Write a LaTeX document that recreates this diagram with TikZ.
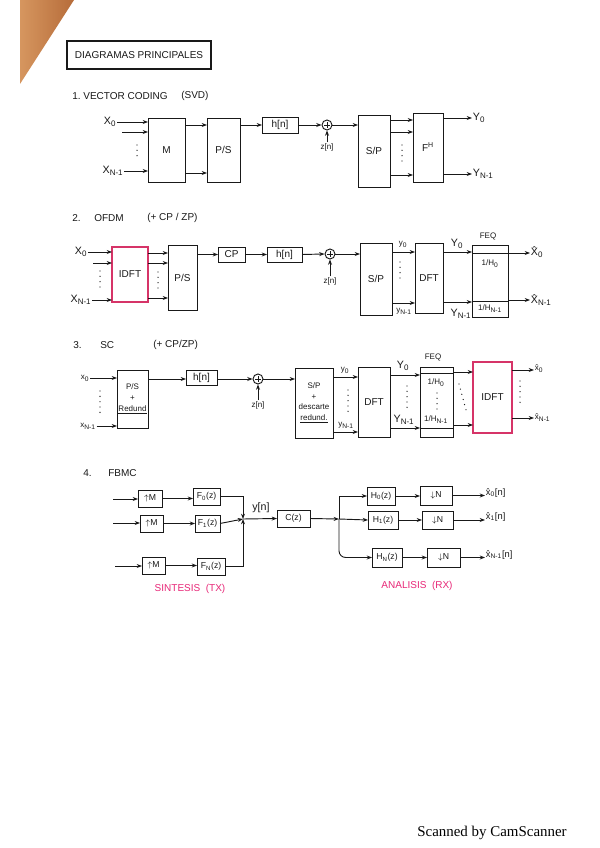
\documentclass[tikz,border=0pt]{standalone}
\usepackage{fontspec}
\setmainfont{Liberation Sans}
\newfontfamily\scanfont{Liberation Serif}
\usetikzlibrary{arrows.meta,calc}

\definecolor{ink}{RGB}{25,25,25}
\definecolor{pinkred}{RGB}{214,52,104}
\definecolor{magent}{RGB}{232,40,120}
\definecolor{woodA}{RGB}{214,150,95}
\definecolor{woodB}{RGB}{182,108,58}

\tikzset{
  blk/.style={draw=ink,line width=0.7pt,inner sep=0pt,outer sep=0pt,align=center,text=ink,font=\fontsize{7.5}{8.5}\selectfont},
  pblk/.style={draw=pinkred,line width=1.5pt},
  arr/.style={draw=ink,line width=0.7pt,-{Stealth[length=4pt,width=3pt]}},
  lbl/.style={inner sep=0.5pt,text=ink,font=\fontsize{8}{9}\selectfont},
  sml/.style={inner sep=0.5pt,text=ink,font=\fontsize{6}{7}\selectfont},
  ttl/.style={inner sep=0pt,anchor=west,text=ink,font=\fontsize{7.5}{8}\selectfont},
  pinklbl/.style={inner sep=0pt,text=magent,font=\fontsize{7.5}{8}\selectfont},
  sumnode/.style={draw=ink,circle,line width=0.7pt,minimum size=7.5pt,inner sep=0pt,
    path picture={\draw[line width=0.6pt] ([xshift=-2pt]path picture bounding box.center) -- ([xshift=2pt]path picture bounding box.center);
                  \draw[line width=0.6pt] ([yshift=-2pt]path picture bounding box.center) -- ([yshift=2pt]path picture bounding box.center);}},
}
\newcommand\blk[7][]{\pgfmathsetmacro\bkw{(#5-#3)*0.75}\pgfmathsetmacro\bkh{(#6-#4)*0.75}%
  \node[blk,minimum width=\bkw pt,minimum height=\bkh pt,#1] (#2) at ({(#3+#5)/2},{(#4+#6)/2}) {#7};}
\newcommand\vdts[3]{\draw[ink,line width=1pt,line cap=round,dash pattern=on 0pt off 4pt] (#1,#2) -- (#1,#3);}
\newcommand\sbs[1]{\textsubscript{#1}}

\begin{document}
\begin{tikzpicture}[x=0.75pt,y=-0.75pt]
\fill[white] (0,0) rectangle (599,848);
\useasboundingbox (0,0) rectangle (599,848);
\shade[left color=woodA,right color=woodB] (20,0) -- (74,0) -- (20,84) -- cycle;

% Title
\node[draw=ink,line width=0.8pt,minimum width=108pt,minimum height=21pt,inner sep=0pt,text=ink,font=\fontsize{7.5}{8}\selectfont] (title) at (139,55) {DIAGRAMAS PRINCIPALES};

% ---------- 1. Vector coding ----------
\node[ttl] (t1) at (72,96) {1.\ VECTOR CODING};
\node[ttl] (t1b) at (181,96) {(SVD)};
\node[lbl] (x0a) at (110,122) {X\sbs{0}};
\node[lbl] (xna) at (113,171) {X\sbs{N-1}};
\coordinate (i1a) at (122,132);
\blk{Ma}{148}{118}{185}{182}{M}
\draw[arr] (x0a.east) -- (Ma.west |- x0a.east);
\draw[arr] (i1a) -- (Ma.west |- i1a);
\draw[arr] (xna.east) -- (Ma.west |- xna.east);
\vdts{137}{145}{160}
\blk{PSa}{207}{118}{240}{182}{P/S}
\draw[arr] (Ma.east |- 0,125) -- (PSa.west |- 0,125);
\draw[arr] (Ma.east |- 0,173) -- (PSa.west |- 0,173);
\blk{ha}{262}{117}{298}{133}{h[n]}
\draw[arr] (PSa.east |- ha.west) -- (ha.west);
\node[sumnode] (sa) at (327,125) {};
\draw[arr] (ha.east) -- (sa.west);
\node[sml] (za) at (327,147) {z[n]};
\draw[arr] (za.north) -- (sa.south);
\blk{SPa}{358}{115}{390}{187}{S/P}
\draw[arr] (sa.east) -- (SPa.west |- sa.east);
\blk{FHa}{413}{113}{443}{182}{F\textsuperscript{H}}
\draw[arr] (SPa.east |- 0,120) -- (FHa.west |- 0,120);
\draw[arr] (SPa.east |- 0,132) -- (FHa.west |- 0,132);
\draw[arr] (SPa.east |- 0,175) -- (FHa.west |- 0,175);
\vdts{402}{145}{161}
\node[lbl,anchor=west] (y0a) at (472,118) {Y\sbs{0}};
\node[lbl,anchor=west] (yna) at (472,174) {Y\sbs{N-1}};
\draw[arr] (FHa.east |- y0a.west) -- (y0a.west);
\draw[arr] (FHa.east |- yna.west) -- (yna.west);

% ---------- 2. OFDM ----------
\node[ttl] (t2a) at (72,218) {2.};
\node[ttl] (t2b) at (94,218) {OFDM};
\node[ttl] (t2c) at (147,218) {(+ CP / ZP)};
\node[lbl] (x0b) at (81,252) {X\sbs{0}};
\node[lbl] (xnb) at (81,300) {X\sbs{N-1}};
\coordinate (i1b) at (93,263);
\blk[pblk]{idft}{112}{247}{148}{302}{IDFT}
\draw[arr] (x0b.east) -- (idft.west |- x0b.east);
\draw[arr] (i1b) -- (idft.west |- i1b);
\draw[arr] (xnb.east) -- (idft.west |- xnb.east);
\vdts{100}{271}{289}
\blk{PSb}{168}{245}{197}{310}{P/S}
\draw[arr] (idft.east |- 0,253) -- (PSb.west |- 0,253);
\draw[arr] (idft.east |- 0,263) -- (PSb.west |- 0,263);
\draw[arr] (idft.east |- 0,298) -- (PSb.west |- 0,298);
\vdts{158}{272}{288}
\blk{CPb}{218}{247}{245}{262}{CP}
\draw[arr] (PSb.east |- CPb.west) -- (CPb.west);
\blk{hb}{267}{247}{302}{262}{h[n]}
\draw[arr] (CPb.east) -- (hb.west);
\node[sumnode] (sb) at (330,254) {};
\draw[arr] (hb.east) -- (sb.west);
\node[sml] (zb) at (330,281) {z[n]};
\draw[arr] (zb.north) -- (sb.south);
\blk{SPb}{360}{243}{392}{315}{S/P}
\draw[arr] (sb.east) -- (SPb.west |- sb.east);
\blk{DFTb}{415}{243}{443}{313}{DFT}
\draw[arr] (SPb.east |- 0,252) -- (DFTb.west |- 0,252);
\draw[arr] (SPb.east |- 0,303) -- (DFTb.west |- 0,303);
\node[sml] (y0b) at (403,244) {y\sbs{0}};
\node[sml] (ynb) at (404,311) {y\sbs{N-1}};
\vdts{400}{262}{282}
\blk{FEQb}{472}{245}{508}{317}{}
\node[sml] (feqb) at (488,236) {FEQ};
\draw[ink,line width=0.5pt] (FEQb.west |- 0,253) -- (FEQb.east |- 0,253);
\draw[ink,line width=0.5pt] (FEQb.west |- 0,301) -- (FEQb.east |- 0,301);
\node[sml] (h0b) at (490,264) {1/H\sbs{0}};
\node[sml] (hnb) at (490,309) {1/H\sbs{N-1}};
\draw[arr] (DFTb.east |- 0,252) -- (FEQb.west |- 0,252);
\draw[arr] (DFTb.east |- 0,302) -- (FEQb.west |- 0,302);
\node[lbl] (Y0b) at (457,244) {Y\sbs{0}};
\node[lbl] (Ynb) at (461,314) {Y\sbs{N-1}};
\node[lbl,anchor=west] (X0b) at (530,252) {\^{X}\sbs{0}};
\node[lbl,anchor=west] (Xnb) at (530,300) {\^{X}\sbs{N-1}};
\draw[arr] (FEQb.east |- 0,253) -- (X0b.west |- 0,253);
\draw[arr] (FEQb.east |- 0,300) -- (Xnb.west |- 0,300);

% ---------- 3. SC ----------
\node[ttl] (t3a) at (73,345) {3.};
\node[ttl] (t3b) at (100,345) {SC};
\node[ttl] (t3c) at (153,345) {(+ CP/ZP)};
\node[sml] (x0c) at (85,378) {x\sbs{0}};
\node[sml] (xnc) at (88,426) {x\sbs{N-1}};
\blk[font=\fontsize{6}{8}\selectfont]{PSR}{117}{370}{148}{428}{P/S\\+\\\underline{Redund}}
\draw[arr] (x0c.east) -- (PSR.west |- x0c.east);
\draw[arr] (xnc.east) -- (PSR.west |- xnc.east);
\vdts{100}{391}{415}
\blk{hc}{186}{370}{217}{385}{h[n]}
\draw[arr] (PSR.east |- 0,379) -- (hc.west |- 0,379);
\node[sumnode] (sc) at (258,379) {};
\draw[arr] (hc.east |- sc.west) -- (sc.west);
\node[sml] (zc) at (258,405) {z[n]};
\draw[arr] (zc.north) -- (sc.south);
\blk[font=\fontsize{6}{8}\selectfont]{SPD}{295}{368}{333}{438}{S/P\\+\\descarte\\\underline{redund.}}
\draw[arr] (sc.east) -- (SPD.west |- sc.east);
\blk{DFTc}{358}{367}{390}{437}{DFT}
\draw[arr] (SPD.east |- 0,377) -- (DFTc.west |- 0,377);
\draw[arr] (SPD.east |- 0,432) -- (DFTc.west |- 0,432);
\node[sml] (y0c) at (345,370) {y\sbs{0}};
\node[sml] (ync) at (346,425) {y\sbs{N-1}};
\vdts{348}{390}{412}
\blk{FEQc}{420}{367}{453}{437}{}
\node[sml] (feqc) at (433,357) {FEQ};
\draw[ink,line width=0.5pt] (FEQc.west |- 0,373) -- (FEQc.east |- 0,373);
\draw[ink,line width=0.5pt] (FEQc.west |- 0,428) -- (FEQc.east |- 0,428);
\node[sml] (h0c) at (436,383) {1/H\sbs{0}};
\node[sml] (hnc) at (436,420) {1/H\sbs{N-1}};
\vdts{437}{393}{409}
\draw[arr] (DFTc.east |- 0,375) -- (FEQc.west |- 0,375);
\draw[arr] (DFTc.east |- 0,428) -- (FEQc.west |- 0,428);
\node[lbl] (Y0c) at (403,366) {Y\sbs{0}};
\node[lbl] (Ync) at (404,420) {Y\sbs{N-1}};
\vdts{407}{386}{410}
\blk[pblk]{idftc}{473}{362}{512}{433}{IDFT}
\draw[arr] (FEQc.east |- 0,372) -- (idftc.west |- 0,372);
\draw[arr] (FEQc.east |- 0,425) -- (idftc.west |- 0,425);
\draw[ink,line width=1pt,line cap=round,dash pattern=on 0pt off 4pt] (459,384) -- (466,410);
\node[sml,anchor=west] (x0o) at (534,369) {\^{x}\sbs{0}};
\node[sml,anchor=west] (xno) at (534,418) {\^{x}\sbs{N-1}};
\draw[arr] (idftc.east |- 0,370) -- (x0o.west |- 0,370);
\draw[arr] (idftc.east |- 0,418) -- (xno.west |- 0,418);
\vdts{520}{381}{405}

% ---------- 4. FBMC ----------
\node[ttl] (t4a) at (83,473) {4.};
\node[ttl] (t4b) at (108,473) {FBMC};
\tikzset{fb/.style={font=\fontsize{6.5}{7.5}\selectfont}}
\coordinate (in1) at (113,499);
\coordinate (in2) at (113,523);
\coordinate (in3) at (115,566);
\blk[fb]{UM1}{138}{490}{162}{507}{$\uparrow$M}
\blk[fb]{UM2}{140}{515}{163}{532}{$\uparrow$M}
\blk[fb]{UM3}{142}{557}{165}{574}{$\uparrow$M}
\blk[fb]{F0}{193}{488}{220}{505}{F\sbs{0}(z)}
\blk[fb]{F1}{195}{515}{220}{532}{F\sbs{1}(z)}
\blk[fb]{FN}{197}{558}{225}{575}{F\sbs{N}(z)}
\draw[arr] (in1) -- (UM1.west |- in1);
\draw[arr] (in2) -- (UM2.west |- in2);
\draw[arr] (in3) -- (UM3.west |- in3);
\draw[arr] (UM1.east) -- (F0.west |- UM1.east);
\draw[arr] (UM2.east) -- (F1.west |- UM2.east);
\draw[arr] (UM3.east) -- (FN.west |- UM3.east);
\coordinate (J1) at (243,519);
\draw[arr] (F0.east) -| (J1);
\draw[arr] (F1.east) -- (J1);
\draw[arr] (FN.east) -| (J1);
\node[lbl] (yn) at (261,508) {y[n]};
\blk[fb]{Cz}{277}{510}{310}{527}{C(z)}
\draw[arr] (J1) -- (Cz.west);
\coordinate (J2) at (339,519);
\draw[arr] (Cz.east) -- (J2);
\blk[fb]{H0}{367}{487}{395}{505}{H\sbs{0}(z)}
\blk[fb]{H1}{368}{511}{398}{529}{H\sbs{1}(z)}
\blk[fb]{HN}{372}{548}{402}{567}{H\sbs{N}(z)}
\draw[arr] (J2) |- (H0.west);
\draw[arr] (J2) -- (H1.west);
\draw[arr,rounded corners=5pt] (J2) |- (HN.west);
\blk[fb]{D0}{420}{486}{452}{505}{$\downarrow$N}
\blk[fb]{D1}{422}{511}{453}{529}{$\downarrow$N}
\blk[fb]{DN}{427}{548}{460}{567}{$\downarrow$N}
\draw[arr] (H0.east) -- (D0.west |- H0.east);
\draw[arr] (H1.east) -- (D1.west |- H1.east);
\draw[arr] (HN.east) -- (DN.west |- HN.east);
\node[lbl,anchor=west,font=\fontsize{7}{8}\selectfont] (o0) at (485,493) {\^{x}\sbs{0}[n]};
\node[lbl,anchor=west,font=\fontsize{7}{8}\selectfont] (o1) at (485,517) {\^{x}\sbs{1}[n]};
\node[lbl,anchor=west,font=\fontsize{7}{8}\selectfont] (on) at (485,555) {\^{x}\sbs{N-1}[n]};
\draw[arr] (D0.east) -- (o0.west |- D0.east);
\draw[arr] (D1.east) -- (o1.west |- D1.east);
\draw[arr] (DN.east) -- (on.west |- DN.east);
\node[pinklbl] (tx) at (190,589) {SINTESIS\ \ (TX)};
\node[pinklbl] (rx) at (417,586) {ANALISIS\ \ (RX)};

\node[inner sep=0pt,text=black,font=\scanfont\fontsize{11.2}{13}\selectfont] (scan) at (492,833) {Scanned by CamScanner};
\end{tikzpicture}
\end{document}
